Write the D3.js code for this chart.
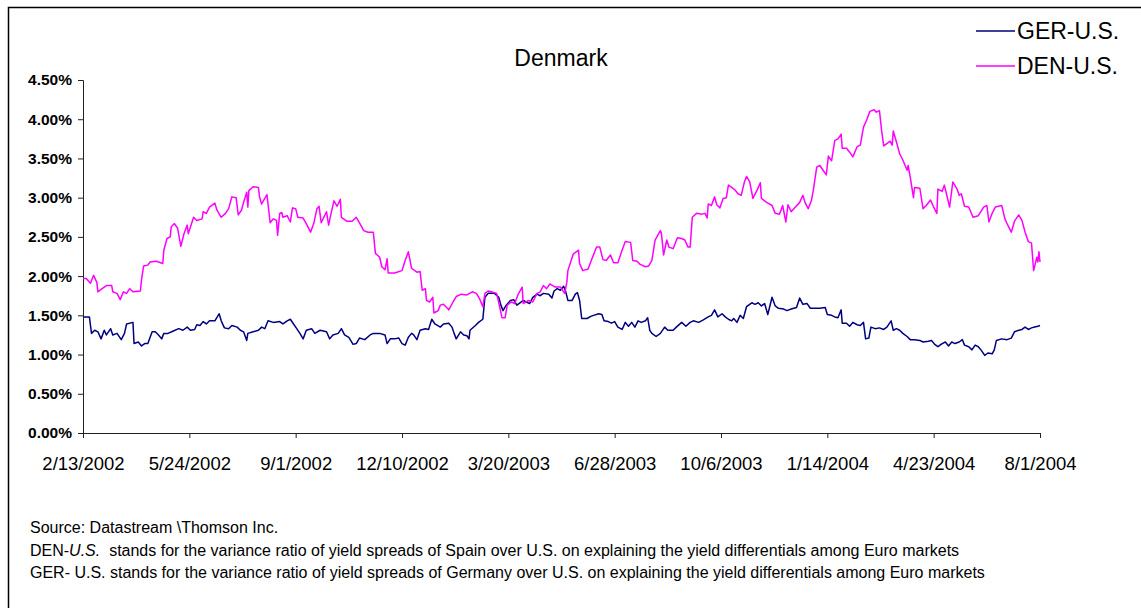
<!DOCTYPE html>
<html>
<head>
<meta charset="utf-8">
<script src="https://cdn.jsdelivr.net/npm/d3@7"></script>
<style>
  body { margin: 0; background: #fff; }
  svg text { font-family: "Liberation Sans", Arial, sans-serif; }
</style>
</head>
<body>
<div class="chart"></div>
<script>
// Denmark: yield spread variance ratios, GER-U.S. vs DEN-U.S.

var startDate = "2/13/2002",
    endDate   = "8/1/2004";

var tickLabels = ["2/13/2002", "5/24/2002", "9/1/2002", "12/10/2002", "3/20/2003",
                  "6/28/2003", "10/6/2003", "1/14/2004", "4/23/2004", "8/1/2004"];

var yTicks = [0, 0.5, 1, 1.5, 2, 2.5, 3, 3.5, 4, 4.5];

// [days after 2/13/2002, percent]
var gerUS = [
  [0,1.48],[6,1.48],[8,1.27],[11,1.31],[14,1.29],[17,1.20],[20,1.31],[22,1.25],[26,1.33],[28,1.25],
  [32,1.27],[36,1.19],[39,1.27],[41,1.39],[47,1.41],[48,1.14],[52,1.16],[55,1.11],[58,1.14],[61,1.14],
  [65,1.29],[68,1.29],[71,1.25],[74,1.20],[76,1.27],[80,1.27],[85,1.30],[90,1.33],[94,1.31],[98,1.35],
  [101,1.31],[105,1.32],[107,1.38],[110,1.37],[113,1.42],[116,1.39],[119,1.43],[124,1.43],[128,1.52],[130,1.43],
  [133,1.34],[137,1.33],[140,1.37],[145,1.35],[148,1.31],[151,1.29],[154,1.18],[155,1.27],[160,1.29],[165,1.31],
  [168,1.35],[171,1.33],[174,1.43],[179,1.41],[185,1.42],[188,1.39],[192,1.43],[195,1.45],[198,1.39],[201,1.33],
  [204,1.27],[207,1.20],[210,1.31],[215,1.33],[218,1.27],[223,1.31],[229,1.29],[232,1.20],[235,1.25],[240,1.27],
  [243,1.33],[246,1.25],[250,1.22],[254,1.13],[257,1.14],[260,1.21],[265,1.19],[270,1.25],[273,1.27],[279,1.27],
  [284,1.25],[286,1.14],[289,1.20],[293,1.20],[297,1.21],[300,1.14],[303,1.12],[306,1.22],[309,1.27],[311,1.25],
  [314,1.19],[317,1.31],[322,1.33],[325,1.32],[328,1.45],[331,1.39],[336,1.35],[339,1.39],[344,1.40],[347,1.35],
  [349,1.27],[351,1.20],[355,1.29],[358,1.25],[361,1.24],[363,1.20],[364,1.31],[369,1.37],[372,1.41],[376,1.45],
  [378,1.73],[381,1.78],[384,1.78],[387,1.78],[391,1.73],[393,1.63],[395,1.56],[398,1.63],[402,1.69],[405,1.70],
  [408,1.63],[411,1.66],[414,1.69],[417,1.67],[420,1.65],[423,1.73],[427,1.77],[430,1.75],[433,1.78],[438,1.77],
  [441,1.72],[443,1.81],[446,1.84],[449,1.82],[452,1.87],[454,1.80],[456,1.69],[460,1.69],[463,1.77],[465,1.79],
  [467,1.69],[469,1.46],[474,1.46],[478,1.49],[485,1.52],[488,1.51],[490,1.43],[494,1.42],[497,1.40],[500,1.42],
  [503,1.35],[507,1.32],[510,1.41],[513,1.36],[516,1.41],[519,1.35],[522,1.43],[525,1.41],[529,1.43],[531,1.47],
  [533,1.31],[535,1.27],[539,1.23],[543,1.27],[547,1.35],[550,1.31],[555,1.31],[558,1.35],[563,1.41],[567,1.36],
  [571,1.41],[574,1.43],[579,1.41],[583,1.44],[588,1.48],[591,1.50],[594,1.57],[597,1.48],[601,1.52],[604,1.48],
  [607,1.45],[610,1.43],[612,1.46],[615,1.41],[618,1.50],[621,1.46],[624,1.61],[629,1.66],[632,1.64],[635,1.66],
  [638,1.62],[641,1.65],[644,1.51],[648,1.73],[651,1.62],[654,1.59],[659,1.58],[662,1.56],[666,1.58],[671,1.60],
  [674,1.72],[677,1.64],[681,1.65],[684,1.59],[688,1.59],[693,1.59],[698,1.60],[700,1.51],[704,1.50],[707,1.48],
  [710,1.47],[713,1.57],[714,1.40],[718,1.40],[721,1.36],[724,1.41],[728,1.38],[731,1.37],[734,1.41],[736,1.20],
  [739,1.21],[741,1.35],[745,1.33],[749,1.34],[753,1.32],[756,1.35],[760,1.43],[762,1.31],[765,1.33],[768,1.31],
  [771,1.27],[775,1.23],[778,1.19],[782,1.19],[787,1.18],[790,1.16],[795,1.17],[798,1.18],[801,1.13],[804,1.10],
  [808,1.14],[811,1.16],[814,1.11],[817,1.16],[820,1.14],[824,1.16],[827,1.19],[829,1.12],[833,1.10],[836,1.06],
  [839,1.12],[842,1.10],[845,1.05],[848,0.99],[851,1.02],[855,1.01],[857,1.06],[859,1.18],[864,1.20],[869,1.19],
  [873,1.21],[876,1.29],[880,1.31],[883,1.32],[886,1.35],[889,1.32],[892,1.34],[895,1.35],[898,1.36],[900,1.37]
];

var denUS = [
  [0,1.97],[3,1.97],[7,1.91],[10,2.01],[13,1.92],[14,1.80],[18,1.84],[22,1.88],[27,1.88],[28,1.80],
  [32,1.78],[35,1.70],[38,1.80],[41,1.78],[44,1.84],[47,1.80],[54,1.81],[55,1.95],[57,2.13],[61,2.14],
  [63,2.18],[69,2.19],[75,2.16],[76,2.33],[79,2.48],[82,2.50],[83,2.63],[86,2.67],[89,2.61],[92,2.38],
  [95,2.54],[98,2.65],[99,2.54],[104,2.75],[107,2.71],[112,2.73],[113,2.82],[116,2.80],[119,2.88],[124,2.93],
  [126,2.84],[130,2.75],[134,2.80],[137,2.86],[140,3.01],[144,3.00],[146,2.78],[149,2.84],[151,2.94],[154,3.07],
  [155,2.88],[156,3.09],[160,3.14],[165,3.13],[166,3.01],[168,2.92],[171,2.99],[173,3.04],[176,2.68],[179,2.73],
  [182,2.71],[183,2.52],[185,2.80],[187,2.81],[188,2.75],[192,2.77],[195,2.69],[197,2.87],[200,2.86],[202,2.75],
  [207,2.74],[210,2.67],[214,2.56],[217,2.67],[220,2.86],[222,2.89],[224,2.68],[229,2.82],[231,2.65],[233,2.78],
  [236,2.96],[239,2.89],[242,2.98],[243,2.75],[248,2.70],[253,2.70],[257,2.75],[260,2.68],[264,2.58],[268,2.56],
  [273,2.56],[275,2.29],[279,2.24],[281,2.12],[284,2.08],[286,2.22],[287,2.04],[293,2.04],[300,2.07],[303,2.20],
  [306,2.31],[309,2.10],[314,2.05],[317,2.06],[319,1.82],[322,1.84],[323,1.69],[326,1.67],[329,1.73],[330,1.53],
  [334,1.56],[336,1.63],[339,1.64],[344,1.57],[348,1.67],[351,1.74],[356,1.77],[361,1.76],[366,1.80],[370,1.78],
  [373,1.71],[376,1.61],[378,1.78],[381,1.81],[384,1.80],[389,1.78],[392,1.60],[394,1.47],[397,1.47],[399,1.63],
  [403,1.67],[406,1.65],[409,1.76],[413,1.86],[414,1.65],[419,1.69],[423,1.67],[427,1.78],[430,1.80],[433,1.88],
  [436,1.84],[439,1.90],[444,1.86],[449,1.86],[453,1.78],[455,1.92],[456,2.07],[461,2.28],[466,2.33],[467,2.16],
  [470,2.07],[475,2.09],[478,2.20],[483,2.37],[486,2.37],[489,2.21],[492,2.20],[496,2.27],[499,2.17],[503,2.17],
  [507,2.33],[510,2.44],[515,2.43],[517,2.20],[521,2.19],[524,2.15],[529,2.12],[532,2.13],[535,2.20],[538,2.46],
  [543,2.58],[544,2.54],[546,2.27],[549,2.46],[551,2.37],[555,2.35],[559,2.49],[563,2.48],[566,2.46],[569,2.37],
  [571,2.37],[573,2.75],[577,2.80],[582,2.79],[585,2.80],[587,2.74],[588,2.92],[591,2.90],[594,3.01],[596,2.91],
  [599,2.87],[602,2.99],[605,3.00],[607,3.16],[610,3.13],[613,3.10],[616,3.05],[619,3.03],[622,3.20],[624,3.27],
  [627,3.20],[630,2.99],[634,3.10],[637,3.19],[638,2.99],[643,2.94],[648,2.90],[651,2.80],[655,2.79],[658,2.90],
  [661,2.69],[663,2.91],[666,2.82],[670,2.88],[674,2.94],[677,3.03],[679,2.94],[682,2.86],[685,2.96],[687,3.11],
  [690,3.39],[693,3.41],[696,3.35],[699,3.29],[701,3.53],[704,3.47],[707,3.73],[710,3.75],[713,3.81],[714,3.63],
  [718,3.63],[721,3.58],[724,3.52],[728,3.65],[731,3.67],[734,3.90],[737,3.99],[740,4.10],[744,4.12],[746,4.09],
  [749,4.11],[751,3.86],[753,3.66],[756,3.69],[759,3.72],[761,3.67],[762,3.85],[765,3.71],[768,3.56],[771,3.48],
  [775,3.35],[776,3.41],[778,3.26],[781,3.00],[782,3.13],[787,3.12],[790,2.86],[793,2.90],[797,2.97],[800,2.88],
  [803,2.80],[804,3.11],[808,3.08],[810,3.16],[812,3.05],[815,2.88],[818,3.20],[822,3.11],[824,3.03],[826,3.05],
  [829,2.89],[833,2.88],[837,2.75],[842,2.77],[847,2.88],[850,2.90],[852,2.69],[855,2.80],[858,2.88],[864,2.90],
  [867,2.73],[869,2.67],[873,2.56],[876,2.70],[880,2.78],[883,2.71],[886,2.56],[889,2.44],[892,2.42],[894,2.07],
  [897,2.24],[898,2.18],[899,2.31],[900,2.18]
];

var seriesNames  = ["GER-U.S.", "DEN-U.S."];
var seriesColors = ["#000080", "#ff00ff"];

var footnotes = [
  "Source: Datastream \\Thomson Inc.",
  "stands for the variance ratio of yield spreads of Spain over U.S. on explaining the yield differentials among Euro markets",
  "GER- U.S. stands for the variance ratio of yield spreads of Germany over U.S. on explaining the yield differentials among Euro markets"
];


var W = 1141, H = 608;
var margin = {top: 80, left: 83, right: 101, bottom: 175};

var svg = d3.select(".chart").append("svg")
    .attr("width", W)
    .attr("height", H);

// outer chart frame (cut off at right and bottom)
svg.append("path")
    .attr("d", "M8.5," + (H + 5) + "V7.5H" + (W + 5))
    .attr("fill", "none")
    .attr("stroke", "#000")
    .attr("stroke-width", 1.5);

var parse = d3.timeParse("%m/%d/%Y"),
    fmt   = d3.timeFormat("%-m/%-d/%Y");
var t0 = parse(startDate);

var x = d3.scaleTime()
    .domain([t0, parse(endDate)])
    .range([margin.left, W - margin.right]);

var y = d3.scaleLinear()
    .domain([0, 4.5])
    .range([H - margin.bottom, margin.top]);

var g = svg.append("g");

// y axis
var yAxis = g.append("g")
    .attr("transform", "translate(" + margin.left + ",0)")
    .call(d3.axisLeft(y).tickValues(yTicks).tickSize(5).tickPadding(6)
        .tickFormat(function(d) { return d3.format(".2f")(d) + "%"; }));
yAxis.selectAll("text")
    .attr("font-size", 15.5)
    .attr("font-weight", "bold")
    .attr("fill", "#000");

// x axis
var xAxis = g.append("g")
    .attr("transform", "translate(0," + y(0) + ")")
    .call(d3.axisBottom(x).tickValues(tickLabels.map(parse)).tickSize(5).tickPadding(19)
        .tickFormat(fmt));
xAxis.selectAll("text")
    .attr("font-size", 18.5)
    .attr("fill", "#000");

g.selectAll(".domain, .tick line")
    .attr("stroke", "#222")
    .attr("stroke-width", 1);

// lines
var line = d3.line()
    .x(function(d) { return x(d3.timeDay.offset(t0, d[0])); })
    .y(function(d) { return y(d[1]); });

[gerUS, denUS].forEach(function(s, i) {
    g.append("path")
        .datum(s)
        .attr("d", line)
        .attr("fill", "none")
        .attr("stroke", seriesColors[i])
        .attr("stroke-width", 1.5)
        .attr("stroke-linejoin", "round");
});

// title
svg.append("text")
    .attr("x", 561)
    .attr("y", 66)
    .attr("text-anchor", "middle")
    .attr("font-size", 23)
    .text("Denmark");

// legend
var legend = svg.selectAll(".legend")
    .data(seriesNames)
    .enter().append("g")
    .attr("transform", function(d, i) { return "translate(976," + (31 + i * 35) + ")"; });

legend.append("line")
    .attr("x1", 0).attr("x2", 39)
    .attr("stroke", function(d, i) { return seriesColors[i]; })
    .attr("stroke-width", 1.3);

legend.append("text")
    .attr("x", 41)
    .attr("y", 7.5)
    .attr("font-size", 23)
    .text(function(d) { return d; });

// notes under the chart
var notes = svg.append("g").attr("font-size", 16);

notes.append("text").attr("x", 30).attr("y", 533).text(footnotes[0]);

var n2 = notes.append("text").attr("x", 30).attr("y", 555.5);
n2.append("tspan").text("DEN-");
n2.append("tspan").attr("font-style", "italic").text("U.S.");
n2.append("tspan").text("\u00a0 " + footnotes[1]);

notes.append("text").attr("x", 30).attr("y", 578).text(footnotes[2]);
</script>
</body>
</html>
